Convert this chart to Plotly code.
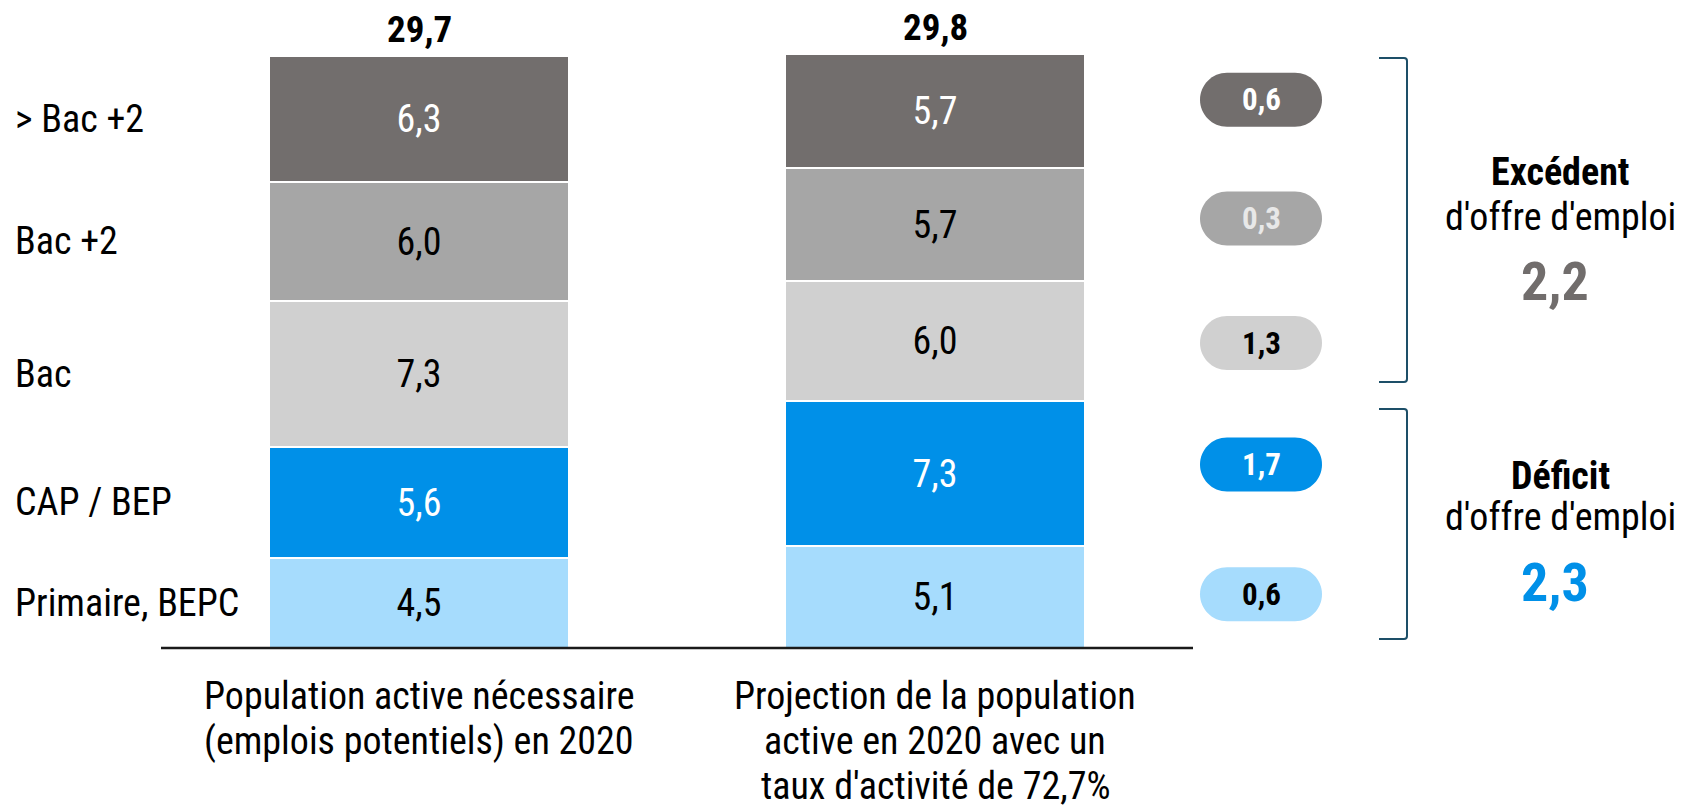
import subprocess
import plotly.graph_objects as go

# ---------------- data ----------------
levels = ["Primaire, BEPC", "CAP / BEP", "Bac", "Bac +2", "&gt; Bac +2"]
needed_2020 = [4.5, 5.6, 7.3, 6.0, 6.3]        # Population active nécessaire
projected_2020 = [5.1, 7.3, 6.0, 5.7, 5.7]     # Projection population active
bar_labels = [["Population active nécessaire", "(emplois potentiels) en 2020"],
              ["Projection de la population", "active en 2020 avec un", "taux d'activité de 72,7%"]]
group_title_surplus = "Excédent"
group_title_deficit = "Déficit"
group_subtitle = "d'offre d'emploi"

# ---------------- fonts ----------------
try:
    fams = subprocess.run(["fc-list", ":", "family"], capture_output=True, text=True).stdout
except Exception:
    fams = ""
narrow = None
for cand in ["Liberation Sans Narrow", "Arial Narrow", "Roboto Condensed"]:
    if cand in fams:
        narrow = cand
        break
if narrow:
    FONT = narrow + ", sans-serif"
    S = 1.0
else:
    FONT = "Liberation Sans, Arial, sans-serif"
    S = 0.84


def fs(v):
    return round(v * S, 1)


# ---------------- style ----------------
W, H = 1682, 805
seg_colors = ["#a6dcfd", "#0090e8", "#d0d0d0", "#a6a6a6", "#726e6d"]
seg_text = ["#000000", "#ffffff", "#000000", "#000000", "#ffffff"]
pill_text = ["#000000", "#ffffff", "#000000", "#e8e8e8", "#ffffff"]
pill_nudge_px = [3, 9, -2, 6, 11]   # small vertical layout nudges of the pills (pixels, up)
BLUE, GREY, BRACKET = "#0090e8", "#716d6c", "#1d4f68"

# pixel geometry -> axis ranges (axes span the whole figure)
px_per_x = 516.0
x_center0 = 419.0
x0 = -x_center0 / px_per_x
x1 = x0 + W / px_per_x
base_px = 648.0
px_per_y = 592.0 / 29.7
y0 = -(H - base_px) / px_per_y
y1 = base_px / px_per_y
bar_w = 300 / px_per_x


def fmt(v):
    return f"{v:.1f}".replace(".", ",")


fig = go.Figure()
xs = [0, 1]
series = [needed_2020, projected_2020]
for i, lvl in enumerate(levels):
    vals = [s[i] for s in series]
    fig.add_trace(go.Bar(
        x=xs, y=vals, width=bar_w, name=lvl,
        marker=dict(color=seg_colors[i], line=dict(color="white", width=2)),
        text=[fmt(v) for v in vals], textposition="inside", insidetextanchor="middle",
        textangle=0, textfont=dict(family=FONT, size=fs(38), color=seg_text[i]),
        hoverinfo="skip", showlegend=False,
    ))

annotations = []
shapes = []

# totals above bars
for x, s in zip(xs, series):
    tot = sum(s)
    annotations.append(dict(x=x, y=tot, xref="x", yref="y", text=f"<b>{fmt(tot)}</b>",
                            showarrow=False, xanchor="center", yanchor="middle", yshift=27,
                            font=dict(family=FONT, size=fs(37), color="#000000")))

# category labels on the left (centred on segments of first bar)
cum = 0
for i, lvl in enumerate(levels):
    mid = cum + needed_2020[i] / 2
    cum += needed_2020[i]
    annotations.append(dict(x=13 / W, y=mid, xref="paper", yref="y", text=lvl,
                            showarrow=False, xanchor="left", yanchor="middle",
                            font=dict(family=FONT, size=fs(38), color="#000000")))

# x labels below baseline
for x, lines in zip(xs, bar_labels):
    for j, line in enumerate(lines):
        annotations.append(dict(x=x, y=0, xref="x", yref="y", text=line, showarrow=False,
                                xanchor="center", yanchor="middle", yshift=-(48 + 45 * j),
                                font=dict(family=FONT, size=fs(38), color="#000000")))

# baseline
shapes.append(dict(type="line", xref="x", yref="y", x0=-0.5, x1=1.5, y0=0, y1=0,
                   line=dict(color="#1a1a1a", width=2.5)))

# difference pills, next to the segments of the second bar
pill_cx = (1261 - x_center0) / px_per_x
hw = 61 / px_per_x
rx = 27 / px_per_x
hh = 27 / px_per_y
k = 0.5523
cum = 0
surplus = 0.0
deficit = 0.0
for i, lvl in enumerate(levels):
    cy = cum + projected_2020[i] / 2 + pill_nudge_px[i] / px_per_y
    cum += projected_2020[i]
    d = round(needed_2020[i] - projected_2020[i], 1)
    if d > 0:
        surplus += d
    else:
        deficit += -d
    L, R = pill_cx - hw, pill_cx + hw
    path = (f"M {L+rx},{cy-hh} L {R-rx},{cy-hh} "
            f"C {R-rx+k*rx},{cy-hh} {R},{cy-k*hh} {R},{cy} "
            f"C {R},{cy+k*hh} {R-rx+k*rx},{cy+hh} {R-rx},{cy+hh} "
            f"L {L+rx},{cy+hh} "
            f"C {L+rx-k*rx},{cy+hh} {L},{cy+k*hh} {L},{cy} "
            f"C {L},{cy-k*hh} {L+rx-k*rx},{cy-hh} {L+rx},{cy-hh} Z")
    shapes.append(dict(type="path", xref="x", yref="y", path=path,
                       fillcolor=seg_colors[i], line=dict(width=0), layer="above"))
    annotations.append(dict(x=pill_cx, y=cy, xref="x", yref="y", text=f"<b>{fmt(abs(d))}</b>",
                            showarrow=False, xanchor="center", yanchor="middle",
                            font=dict(family=FONT, size=fs(31), color=pill_text[i])))


# brackets (paper coords from pixels)
def bracket(top_px, bot_px):
    xl, xr = 1379 / W, 1407 / W
    yt, yb = 1 - top_px / H, 1 - bot_px / H
    c = 3 / W
    cy = 3 / H
    return dict(type="path", xref="paper", yref="paper",
                path=(f"M {xl},{yt} L {xr-c},{yt} Q {xr},{yt} {xr},{yt-cy} "
                      f"L {xr},{yb+cy} Q {xr},{yb} {xr-c},{yb} L {xl},{yb}"),
                line=dict(color=BRACKET, width=2))


shapes.append(bracket(58, 382))
shapes.append(bracket(409, 639))

# right-hand texts
cx_txt = 1560 / W
for title, total, color, ys in [(group_title_surplus, surplus, GREY, (172, 217, 281)),
                                (group_title_deficit, deficit, BLUE, (476, 517, 582))]:
    annotations.append(dict(x=cx_txt, y=1 - ys[0] / H, xref="paper", yref="paper",
                            text=f"<b>{title}</b>", showarrow=False,
                            xanchor="center", yanchor="middle",
                            font=dict(family=FONT, size=fs(38), color="#000000")))
    annotations.append(dict(x=cx_txt, y=1 - ys[1] / H, xref="paper", yref="paper",
                            text=group_subtitle, showarrow=False,
                            xanchor="center", yanchor="middle",
                            font=dict(family=FONT, size=fs(38), color="#000000")))
    annotations.append(dict(x=cx_txt - 5 / W, y=1 - ys[2] / H, xref="paper", yref="paper",
                            text=f"<b>{fmt(total)}</b>", showarrow=False,
                            xanchor="center", yanchor="middle",
                            font=dict(family=FONT, size=fs(54), color=color)))

fig.update_layout(
    width=W, height=H, barmode="stack", bargap=0,
    margin=dict(l=0, r=0, t=0, b=0),
    paper_bgcolor="white", plot_bgcolor="white",
    xaxis=dict(range=[x0, x1], visible=False, fixedrange=True),
    yaxis=dict(range=[y0, y1], visible=False, fixedrange=True),
    shapes=shapes, annotations=annotations,
    font=dict(family=FONT),
)

fig.write_html("out.html", config={"displayModeBar": False},
               post_script="document.body.style.margin='0';")
